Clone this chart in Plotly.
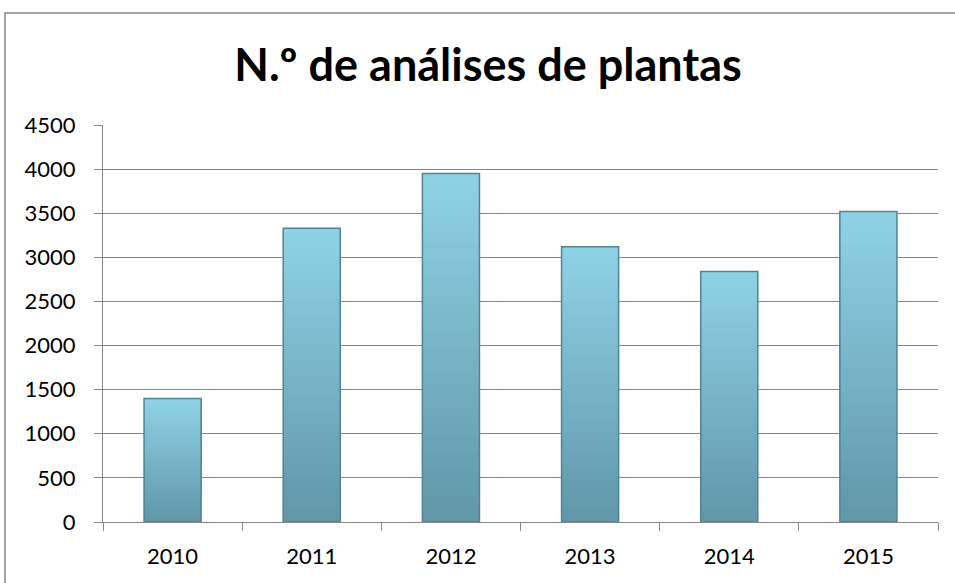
import plotly.graph_objects as go

years = ["2010", "2011", "2012", "2013", "2014", "2015"]
analyses = [1400, 3330, 3950, 3120, 2840, 3520]
y_ticks = [0, 500, 1000, 1500, 2000, 2500, 3000, 3500, 4000, 4500]
title_text = "N.º de análises de plantas"

top_rgb = (143, 210, 230)
bot_rgb = (96, 150, 168)
N = 40

fig = go.Figure()
for k in range(N):
    t = (k + 0.5) / N
    c = tuple(int(round(bot_rgb[j] + (top_rgb[j] - bot_rgb[j]) * t)) for j in range(3))
    fig.add_trace(go.Bar(
        x=years,
        y=[v * (N - k) / N for v in analyses],
        base=[v * k / N for v in analyses],
        marker=dict(color="rgb(%d,%d,%d)" % c, line=dict(width=0)),
        width=0.41,
        hoverinfo="skip",
        showlegend=False,
    ))
fig.add_trace(go.Bar(
    x=years, y=analyses, width=0.41,
    marker=dict(color="rgba(0,0,0,0)", line=dict(color="#4f8495", width=1.5)),
    showlegend=False,
))

W, H = 955, 583
l, r, t, b = 103, 17, 125, 61
pw, ph = W - l - r, H - t - b

fig.update_layout(
    width=W, height=H,
    barmode="overlay",
    margin=dict(l=l, r=r, t=t, b=b),
    paper_bgcolor="white", plot_bgcolor="white",
    font=dict(family="Lato, Carlito, sans-serif", color="black", size=22),
    title=dict(text="<b>%s</b>" % title_text, x=488 / W, xanchor="center",
               y=1 - 65 / H, yanchor="middle", xref="container", yref="container",
               font=dict(size=45, family="Lato, sans-serif", color="black")),
    xaxis=dict(type="category", tickson="boundaries", ticks="outside", ticklen=8,
               tickcolor="#868686", showline=True, linecolor="#868686", linewidth=1,
               showgrid=False, ticklabelstandoff=15, range=[-0.5, 5.5]),
    yaxis=dict(range=[0, 4500], tickvals=y_ticks, ticks="outside", ticklen=8,
               tickcolor="#868686", showline=True, linecolor="#868686", linewidth=1,
               gridcolor="#868686", gridwidth=1, zeroline=False,
               ticklabelstandoff=14),
    shapes=[dict(type="rect", xref="paper", yref="paper",
                 x0=(5 - l) / pw, x1=(W + 5 - l) / pw,
                 y0=-(H + 5 - (t + ph)) / ph, y1=1 + (t - 13) / ph,
                 line=dict(color="#868686", width=1.5), fillcolor="rgba(0,0,0,0)",
                 layer="below")],
)

fig.write_html("out.html", config={"displayModeBar": False},
               post_script="document.body.style.margin='0';document.body.style.overflow='hidden';")
